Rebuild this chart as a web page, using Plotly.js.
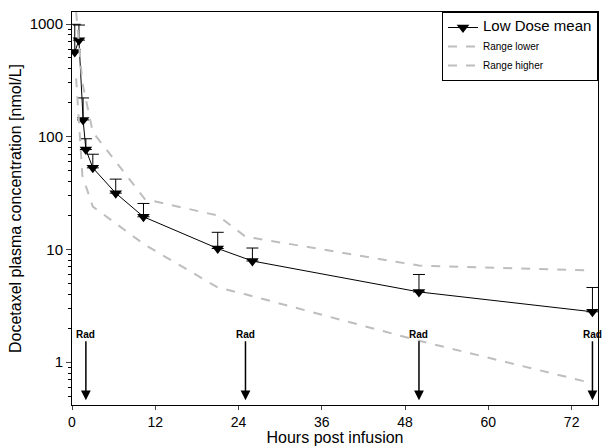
<!DOCTYPE html>
<html><head><script src="https://cdn.plot.ly/plotly-3.0.1.min.js"></script></head>
<body style="margin:0"><div id="myDiv" style="width:606px;height:446px"></div>
<script>
var hours = [0.4, 1, 1.6, 2, 3, 6.3, 10.3, 21, 26, 50, 75];
var meanConc = [565, 720, 141, 77, 53, 31.6, 19.5, 10.2, 7.9, 4.2, 2.8];
var errUp = [430, 260, 80, 19, 17, 10.5, 6.1, 4.0, 2.4, 1.8, 1.8];
var rangeHours = [0.6, 1.5, 3, 10.5, 21, 25, 50, 75];
var rangeLower = [330, 45, 24, 11, 4.6, 4.0, 1.55, 0.65];
var rangeHigher = [1280, 300, 110, 28, 20, 13, 7.2, 6.5];
var radHours = [2, 25, 50, 75];

var dash = {color: 'rgb(190,190,190)', width: 2, dash: 'dash'};
var data = [
  {x: hours, y: meanConc, name: '<span style="font-size:15px">Low Dose mean</span>', mode: 'lines+markers',
   line: {color: 'black', width: 1}, marker: {symbol: 'triangle-down', size: 11, color: 'black'},
   error_y: {type: 'data', symmetric: false, array: errUp, arrayminus: errUp.map(function(){return 0;}), color: 'black', thickness: 1, width: 6}},
  {x: rangeHours, y: rangeLower, name: 'Range lower', mode: 'lines', line: dash},
  {x: rangeHours, y: rangeHigher, name: 'Range higher', mode: 'lines', line: dash}
];
var annotations = radHours.map(function(h){
  return {x: h, y: Math.log10(0.46), xref: 'x', yref: 'y', text: '<b>Rad</b>', showarrow: true,
    arrowhead: 2, arrowsize: 1.3, arrowwidth: 1.5, arrowcolor: 'black', ax: 0, ay: -66, font: {size: 10, color: 'black'}};
});
var layout = {
  margin: {l: 72, r: 8, t: 12, b: 41},
  font: {family: 'Liberation Sans, Arial', color: 'black'},
  plot_bgcolor: 'white',
  showlegend: true,
  legend: {x: 1, y: 1, xanchor: 'right', yanchor: 'top', bordercolor: 'black', borderwidth: 1,
    font: {size: 10}, tracegroupgap: 0, itemwidth: 30},
  xaxis: {range: [0, 75.8], tickvals: [0, 12, 24, 36, 48, 60, 72], showgrid: false, zeroline: false,
    showline: true, linecolor: 'black', mirror: true, ticks: 'outside', ticklen: 4, tickfont: {size: 14},
    automargin: false,
    title: {text: 'Hours post infusion', font: {size: 16}, standoff: 0}},
  yaxis: {type: 'log', range: [-0.38, 3.107], tickvals: [1, 10, 100, 1000], ticktext: ['1', '10', '100', '1000'],
    showgrid: false, zeroline: false, showline: true, linecolor: 'black', mirror: true,
    ticks: 'outside', ticklen: 5, tickfont: {size: 15},
    minor: {ticks: 'outside', ticklen: 3, tickcolor: 'black', dtick: 'D1'},
    title: {text: 'Docetaxel plasma concentration [nmol/L]', font: {size: 16}, standoff: 4}},
  annotations: annotations
};
Plotly.newPlot('myDiv', data, layout, {displayModeBar: false});
</script></body></html>
